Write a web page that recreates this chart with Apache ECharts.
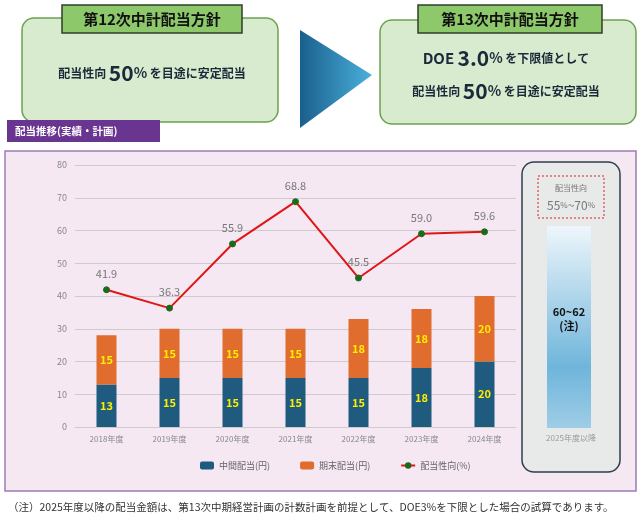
<!DOCTYPE html>
<html><head><meta charset="utf-8">
<script src="https://cdn.jsdelivr.net/npm/echarts@6/dist/echarts.min.js"></script>
<style>html,body{margin:0;padding:0;background:#fff}#c{width:642px;height:517px}</style>
</head><body><div id="c"></div>
<script>
const categories=['2018年度','2019年度','2020年度','2021年度','2022年度','2023年度','2024年度'];
const interim=[13,15,15,15,15,18,20];
const yearEnd=[15,15,15,15,18,18,20];
const payout=[41.9,36.3,55.9,68.8,45.5,59.0,59.6];
const F='"Noto Sans CJK JP"';
const chart=echarts.init(document.getElementById('c'));
chart.setOption({
animation:false,
graphic:[
{type:'rect',shape:{x:5,y:151,width:631,height:340},style:{fill:'#f5e8f3',stroke:'#9d7bb5',lineWidth:1.5},z:-10},
{type:'rect',shape:{x:22,y:18,width:256,height:104,r:12},style:{fill:'#d9ebcf',stroke:'#6ba34f',lineWidth:1.5}},
{type:'rect',shape:{x:62,y:5,width:180,height:28},style:{fill:'#8dc86a',stroke:'#2f3f2a',lineWidth:1.5}},
{type:'text',x:152,y:19,style:{text:'第12次中計配当方針',font:'bold 15px '+F,fill:'#111',align:'center',verticalAlign:'middle'}},
{type:'text',x:152,y:73,style:{text:'{a|配当性向 }{b|50}{c|%}{a| を目途に安定配当}',align:'center',verticalAlign:'middle',rich:{a:{font:'bold 12px '+F,fill:'#1a2a3a'},b:{font:'bold 21px '+F,fill:'#1a2a3a'},c:{font:'bold 14px '+F,fill:'#1a2a3a'}}}},
{type:'rect',shape:{x:7,y:120,width:153,height:22},style:{fill:'#6a3591'}},
{type:'text',x:15,y:131,style:{text:'配当推移(実績・計画)',font:'bold 10.5px '+F,fill:'#fff',verticalAlign:'middle'}},
{type:'polygon',shape:{points:[[300,30],[372,75],[300,128]]},style:{fill:new echarts.graphic.LinearGradient(0,0,1,0,[{offset:0,color:'#1a5f8c'},{offset:1,color:'#4ab0dc'}])}},
{type:'rect',shape:{x:380,y:20,width:256,height:104,r:12},style:{fill:'#d9ebcf',stroke:'#6ba34f',lineWidth:1.5}},
{type:'rect',shape:{x:418,y:5,width:184,height:28},style:{fill:'#8dc86a',stroke:'#2f3f2a',lineWidth:1.5}},
{type:'text',x:510,y:19,style:{text:'第13次中計配当方針',font:'bold 15px '+F,fill:'#111',align:'center',verticalAlign:'middle'}},
{type:'text',x:506,y:58,style:{text:'{b|DOE }{d|3.0}{c|%}{a| を下限値として}',align:'center',verticalAlign:'middle',rich:{a:{font:'bold 12px '+F,fill:'#1a2a3a'},b:{font:'bold 15px '+F,fill:'#1a2a3a'},d:{font:'bold 21px '+F,fill:'#1a2a3a'},c:{font:'bold 14px '+F,fill:'#1a2a3a'}}}},
{type:'text',x:506,y:91,style:{text:'{a|配当性向 }{b|50}{c|%}{a| を目途に安定配当}',align:'center',verticalAlign:'middle',rich:{a:{font:'bold 12px '+F,fill:'#1a2a3a'},b:{font:'bold 21px '+F,fill:'#1a2a3a'},c:{font:'bold 14px '+F,fill:'#1a2a3a'}}}},
{type:'rect',shape:{x:522,y:162,width:98,height:310,r:12},style:{fill:'#e8e9e9',stroke:'#2f3f4a',lineWidth:1.5}},
{type:'rect',shape:{x:538,y:176,width:66,height:42},style:{fill:'none',stroke:'#e02020',lineWidth:1,lineDash:[2,2]}},
{type:'text',x:571,y:188,style:{text:'配当性向',font:'8px '+F,fill:'#777',align:'center',verticalAlign:'middle'}},
{type:'text',x:571,y:205,style:{text:'{a|55}{b|%}{a|~70}{b|%}',align:'center',verticalAlign:'middle',rich:{a:{font:'12px '+F,fill:'#777'},b:{font:'8px '+F,fill:'#777'}}}},
{type:'rect',shape:{x:547,y:226,width:44,height:202},style:{fill:new echarts.graphic.LinearGradient(0,0,0,1,[{offset:0,color:'#eef6fb'},{offset:0.7,color:'#6fb5db'},{offset:1,color:'#9fcde6'}])}},
{type:'text',x:569,y:319,style:{text:'60~62\n(注)',font:'bold 11px '+F,fill:'#111',align:'center',verticalAlign:'middle',lineHeight:14}},
{type:'text',x:571,y:438,style:{text:'2025年度以降',font:'8px '+F,fill:'#999',align:'center',verticalAlign:'middle'}},
{type:'text',x:8,y:507,style:{text:'（注）2025年度以降の配当金額は、第13次中期経営計画の計数計画を前提として、DOE3%を下限とした場合の試算であります。',font:'10.5px '+F,fill:'#333',verticalAlign:'middle'}}
],
legend:{bottom:42,left:195,itemWidth:14,itemHeight:8,itemGap:30,textStyle:{fontFamily:F,fontSize:9,color:'#666'},data:['中間配当(円)','期末配当(円)','配当性向(%)']},
grid:{left:75,top:165,width:441,height:262},
xAxis:{type:'category',data:categories,axisLine:{lineStyle:{color:'#ccc'}},axisTick:{show:false},axisLabel:{fontFamily:F,fontSize:8,color:'#888'}},
yAxis:{type:'value',min:0,max:80,interval:10,axisLabel:{fontFamily:F,fontSize:9,color:'#888'},splitLine:{lineStyle:{color:'#ccc'}}},
series:[
{name:'中間配当(円)',type:'bar',stack:'d',barWidth:20,data:interim,itemStyle:{color:'#1f5b7e'},label:{show:true,color:'#ffee00',fontSize:11,fontWeight:'bold',fontFamily:F}},
{name:'期末配当(円)',type:'bar',stack:'d',barWidth:20,data:yearEnd,itemStyle:{color:'#e06c2e'},label:{show:true,color:'#ffee00',fontSize:11,fontWeight:'bold',fontFamily:F}},
{name:'配当性向(%)',type:'line',data:payout,symbol:'circle',symbolSize:6,lineStyle:{color:'#e01515',width:2},itemStyle:{color:'#1a6a1a',borderColor:'#1a6a1a'},label:{show:true,position:'top',distance:7,color:'#777',fontSize:11,fontFamily:F,formatter:p=>p.value.toFixed(1)}}
]
});
</script></body></html>
